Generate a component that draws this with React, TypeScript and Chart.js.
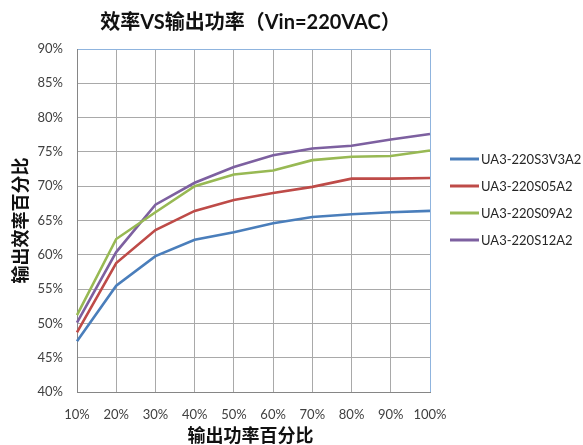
import React, { useEffect, useRef } from "react";
import { Chart, registerables } from "chart.js";

Chart.register(...registerables);

const titleText = "效率VS输出功率（Vin=220VAC）";
const xTitleText = "输出功率百分比";
const yTitleText = "输出效率百分比";

const loadLabels = ["10%", "20%", "30%", "40%", "50%", "60%", "70%", "80%", "90%", "100%"];
const seriesNames = ["UA3-220S3V3A2", "UA3-220S05A2", "UA3-220S09A2", "UA3-220S12A2"];
const seriesColors = ["#4a7ebb", "#be4b48", "#98b954", "#7d60a0"];

const effS3V3 = [47.4, 55.5, 59.8, 62.2, 63.3, 64.6, 65.5, 65.9, 66.2, 66.4];
const effS05 = [48.7, 58.8, 63.6, 66.4, 68.0, 69.0, 69.9, 71.1, 71.1, 71.2];
const effS09 = [51.2, 62.3, 66.2, 70.0, 71.7, 72.3, 73.8, 74.3, 74.4, 75.2];
const effS12 = [50.1, 60.4, 67.3, 70.5, 72.8, 74.5, 75.5, 75.9, 76.8, 77.6];

const seriesValues = [effS3V3, effS05, effS09, effS12];

const yMin = 40;
const yMax = 90;
const yStep = 5;

const LATIN = 'Lato, "Noto Sans CJK SC", sans-serif';
const CJK = 'Lato, "Noto Sans CJK SC", sans-serif';

const decorPlugin = {
  id: "decor",
  afterDraw(chart: any) {
    const { ctx, chartArea } = chart;
    const cx = (chartArea.left + chartArea.right) / 2 - 3;
    ctx.save();
    ctx.fillStyle = "#111";
    ctx.textAlign = "center";
    ctx.textBaseline = "middle";
    ctx.font = `bold 20px ${CJK}`;
    ctx.fillText(titleText, cx, 23);
    ctx.font = `bold 18px ${CJK}`;
    ctx.fillText(xTitleText, cx, 436);
    ctx.save();
    ctx.translate(21, (chartArea.top + chartArea.bottom) / 2);
    ctx.rotate(-Math.PI / 2);
    ctx.fillText(yTitleText, 0, 0);
    ctx.restore();

    // legend
    const rows = [159, 186, 213, 240];
    chart.data.datasets.forEach((ds: any, i: number) => {
      const y = rows[i];
      ctx.strokeStyle = ds.borderColor;
      ctx.lineWidth = 3;
      ctx.beginPath();
      ctx.moveTo(450, y);
      ctx.lineTo(479, y);
      ctx.stroke();
      ctx.fillStyle = "#262626";
      ctx.textAlign = "left";
      ctx.font = `13px ${LATIN}`;
      ctx.fillText(ds.label, 481, y + 0.5);
    });
    ctx.restore();
  },
};

export default function App() {
  const ref = useRef<HTMLCanvasElement | null>(null);

  useEffect(() => {
    document.body.style.margin = "0";
    if (!ref.current) return;
    const lastIdx = loadLabels.length - 1;
    const chart = new Chart(ref.current, {
      type: "line",
      data: {
        labels: loadLabels,
        datasets: seriesNames.map((name, i) => ({
          label: name,
          data: seriesValues[i],
          borderColor: seriesColors[i],
          backgroundColor: seriesColors[i],
          borderWidth: 2.6,
          pointRadius: 0,
          tension: 0,
          fill: false,
        })),
      },
      options: {
        responsive: false,
        animation: false,
        devicePixelRatio: 1,
        layout: { padding: { top: 49, right: 153, left: 0, bottom: 0 } },
        plugins: {
          legend: { display: false },
          title: { display: false },
          tooltip: { enabled: false },
        },
        scales: {
          x: {
            type: "category",
            offset: false,
            afterFit: (s: any) => {
              s.height = 53;
            },
            grid: {
              drawTicks: false,
              color: (c: any) => (c.index === lastIdx ? "#8fb4de" : "#a9a9a9"),
              lineWidth: 1,
            },
            border: { color: "#868686", width: 1 },
            ticks: {
              padding: 15,
              color: "#404040",
              font: { family: LATIN, size: 13 },
              maxRotation: 0,
              autoSkip: false,
            },
          },
          y: {
            min: yMin,
            max: yMax,
            afterFit: (s: any) => {
              s.width = 77;
            },
            grid: {
              drawTicks: false,
              color: (c: any) => (c.tick && c.tick.value === yMax ? "#8fb4de" : "#a9a9a9"),
              lineWidth: 1,
            },
            border: { color: "#868686", width: 1 },
            ticks: {
              stepSize: yStep,
              padding: 14,
              color: "#404040",
              font: { family: LATIN, size: 13 },
              callback: (v: any) => `${v}%`,
            },
          },
        },
      },
      plugins: [decorPlugin],
    });
    return () => chart.destroy();
  }, []);

  return (
    <div style={{ width: 583, height: 445, background: "#fff" }}>
      <canvas ref={ref} width={583} height={445} style={{ display: "block" }} />
    </div>
  );
}
